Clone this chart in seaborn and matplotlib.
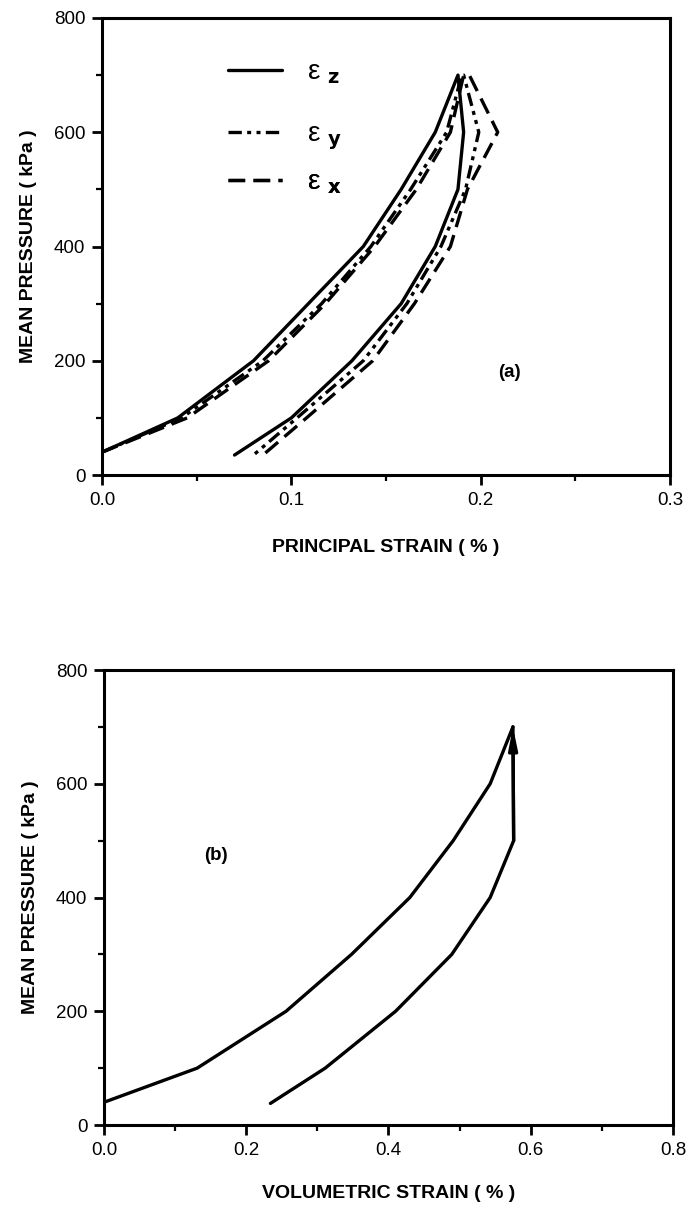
import matplotlib
matplotlib.use("Agg")
import matplotlib.pyplot as plt
import seaborn as sns
from matplotlib.lines import Line2D
from matplotlib.ticker import MultipleLocator

# ---------------- data ----------------
# (a) principal strains (%) vs mean pressure (kPa)
p_load_a = [40, 100, 200, 300, 400, 500, 600, 700]
ez_load = [0.000, 0.040, 0.080, 0.109, 0.138, 0.158, 0.176, 0.188]
ey_load = [0.000, 0.042, 0.085, 0.116, 0.142, 0.163, 0.182, 0.190]
ex_load = [0.000, 0.045, 0.088, 0.118, 0.144, 0.166, 0.184, 0.191]

p_unload_a = [700, 600, 500, 400, 300, 200, 100, 35]
ez_unload = [0.188, 0.191, 0.188, 0.176, 0.158, 0.132, 0.100, 0.070]
ey_unload = [0.191, 0.199, 0.192, 0.179, 0.161, 0.138, 0.103, 0.080]
ex_unload = [0.194, 0.209, 0.193, 0.184, 0.165, 0.143, 0.108, 0.085]

labels_a = ["z", "y", "x"]

# (b) volumetric strain (%) vs mean pressure (kPa)
p_load_b = [40, 100, 200, 300, 400, 500, 600, 700]
ev_load = [0.000, 0.131, 0.256, 0.348, 0.430, 0.491, 0.543, 0.575]
p_unload_b = [700, 500, 400, 300, 200, 100, 38]
ev_unload = [0.575, 0.576, 0.543, 0.489, 0.410, 0.311, 0.234]

xticks_a = [0.0, 0.1, 0.2, 0.3]
xticks_b = [0.0, 0.2, 0.4, 0.6, 0.8]
yticks = [0, 200, 400, 600, 800]

# ---------------- style ----------------
sns.set_style("ticks")
plt.rcParams["font.family"] = ["Liberation Sans", "DejaVu Sans"]
for k in ["text.color", "axes.labelcolor", "xtick.color", "ytick.color",
          "axes.edgecolor"]:
    plt.rcParams[k] = "black"
plt.rcParams["axes.linewidth"] = 2.2
plt.rcParams["xtick.major.width"] = 2.0
plt.rcParams["ytick.major.width"] = 2.0
plt.rcParams["xtick.minor.width"] = 1.6
plt.rcParams["ytick.minor.width"] = 1.6
plt.rcParams["xtick.major.size"] = 7
plt.rcParams["ytick.major.size"] = 7
plt.rcParams["xtick.minor.size"] = 4.5
plt.rcParams["ytick.minor.size"] = 4.5

fig = plt.figure(figsize=(6.86, 12.14), dpi=100)
ax1 = fig.add_axes([0.1487, 0.6087, 0.828, 0.3765])
ax2 = fig.add_axes([0.1516, 0.0733, 0.8294, 0.3748])

styles = ["-", (0, (4, 1.6, 1.2, 1.6, 1.2, 1.6)), (0, (5, 2.5))]
series = [(ez_load, ez_unload), (ey_load, ey_unload), (ex_load, ex_unload)]
lw = 2.4

for (xl, xu), ls in zip(series, styles):
    xs = list(xl) + list(xu)
    ps = list(p_load_a) + list(p_unload_a)
    sns.lineplot(x=xs, y=ps, sort=False, estimator=None, color="black",
                 lw=lw, linestyle=ls, ax=ax1)

# legend for (a): three separately positioned entries
leg_y = [0.880, 0.740, 0.639]
for lab, ls, yy in zip(labels_a, styles, leg_y):
    h = Line2D([], [], color="black", lw=lw, linestyle=ls)
    leg = ax1.legend([h], ["ε $_{\\mathbf{" + lab + "}}$"], loc="center left",
                     bbox_to_anchor=(0.222, yy), frameon=False, fontsize=20,
                     handlelength=1.95, handletextpad=0.9, borderpad=0,
                     borderaxespad=0)
    ax1.add_artist(leg)

ax1.text(0.215, 180, "(a)", fontsize=13.5, fontweight="bold",
         ha="center", va="center")

# (b)
sns.lineplot(x=ev_load, y=p_load_b, sort=False, estimator=None,
             color="black", lw=lw, ax=ax2)
sns.lineplot(x=ev_unload, y=p_unload_b, sort=False, estimator=None,
             color="black", lw=lw, ax=ax2)
ax2.annotate("", xy=(ev_unload[0], p_unload_b[0]),
             xytext=(ev_unload[1], p_unload_b[1]),
             arrowprops=dict(arrowstyle="-|>,head_width=0.18,head_length=0.9",
                             color="black", lw=lw, shrinkA=0, shrinkB=0,
                             mutation_scale=14))
ax2.text(0.157, 474, "(b)", fontsize=13.5, fontweight="bold",
         ha="center", va="center")

# axes formatting
for ax, xt, xlab, lp in [(ax1, xticks_a, "PRINCIPAL STRAIN ( % )", 22),
                         (ax2, xticks_b, "VOLUMETRIC STRAIN ( % )", 19)]:
    ax.set_xlim(xt[0], xt[-1])
    ax.set_ylim(0, 800)
    ax.set_xticks(xt)
    ax.set_xticklabels([f"{v:.1f}" for v in xt])
    ax.set_yticks(yticks)
    ax.set_yticklabels([str(v) for v in yticks])
    ax.xaxis.set_minor_locator(MultipleLocator((xt[1] - xt[0]) / 2))
    ax.yaxis.set_minor_locator(MultipleLocator(100))
    ax.tick_params(axis="both", which="both", direction="out",
                   top=False, right=False, labelsize=13.5, pad=5)
    ax.set_xlabel(xlab, fontsize=14, fontweight="bold", labelpad=lp)
    ax.set_ylabel("MEAN PRESSURE ( kPa )", fontsize=14, fontweight="bold",
                  labelpad=12)
    for sp in ax.spines.values():
        sp.set_visible(True)
        sp.set_linewidth(2.2)

fig.savefig("out.png", dpi=100)
